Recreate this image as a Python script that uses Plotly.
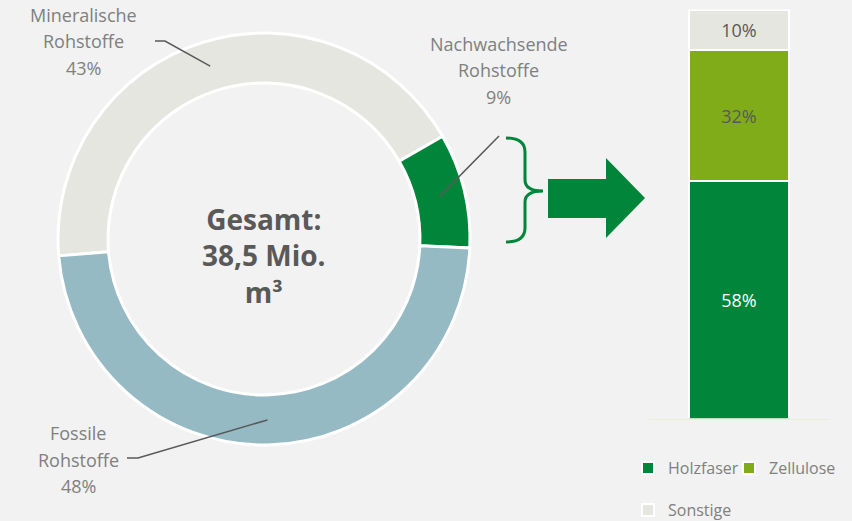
import math
import plotly.graph_objects as go

W, H = 852, 521

# ---------------- data ----------------
donut_names = ["Mineralische Rohstoffe", "Nachwachsende Rohstoffe", "Fossile Rohstoffe"]
donut_label_lines = [["Mineralische", "Rohstoffe"], ["Nachwachsende", "Rohstoffe"], ["Fossile", "Rohstoffe"]]
donut_values = [43, 9, 48]
donut_colors = ["#E6E6E1", "#00853A", "#96BAC3"]
total_text = "Gesamt:<br>38,5 Mio.<br>m³"

bar_category = ["Nachwachsende Rohstoffe"]
bar_series = ["Holzfaser", "Zellulose", "Sonstige"]
holzfaser = [58]
zellulose = [32]
sonstige = [10]
bar_values = [holzfaser, zellulose, sonstige]
bar_colors = ["#00853A", "#80AC1A", "#E6E6E1"]
bar_text_colors = ["#FFFFFF", "#595959", "#595959"]
bar_legends = ["legend", "legend2", "legend3"]

# ---------------- layout constants (pixels) ----------------
BG = "#F1F2F1"
FONT = "Open Sans"
cx, cy, R = 264, 239, 206
HOLE = 0.757
START_ANGLE = 265.3  # degrees clockwise from 12 o'clock

def px(x):
    return x / W

def py(y):
    return 1 - y / H

fig = go.Figure()

fig.add_trace(go.Pie(
    labels=donut_names,
    values=donut_values,
    marker=dict(colors=donut_colors, line=dict(color="white", width=3)),
    hole=HOLE,
    sort=False,
    direction="clockwise",
    rotation=START_ANGLE - 360,
    textinfo="none",
    showlegend=False,
    domain=dict(x=[px(cx - R), px(cx + R)], y=[py(cy + R), py(cy - R)]),
))

for name, vals, col, tcol, lg in zip(bar_series, bar_values, bar_colors, bar_text_colors, bar_legends):
    fig.add_trace(go.Bar(
        x=bar_category, y=vals, name=name,
        marker=dict(color=col, line=dict(color="white", width=2)),
        texttemplate="%{y}%", textposition="inside", insidetextanchor="middle",
        textangle=0,
        textfont=dict(family=FONT, size=18, color=tcol),
        xaxis="x2", yaxis="y2", legend=lg,
    ))

# ---------------- donut labels & leader lines ----------------
label_pos = [(83, 15), (499, 44), (78, 433)]       # centre x, first-line y
leader_ends = [[(155, 41), (165, 41)], [(499, 136)], [(127, 458), (138, 458)]]
LINE_STEP = 26.5

annotations = []
shapes = []
total = sum(donut_values)
acc = 0.0
r_mid = R * (1 + HOLE) / 2
for lines, v, (lx, ly), ends in zip(donut_label_lines, donut_values, label_pos, leader_ends):
    mid = math.radians(START_ANGLE + (acc + v / 2) / total * 360)
    acc += v
    sx = cx + r_mid * math.sin(mid)
    sy = cy - r_mid * math.cos(mid)
    for i, t in enumerate(lines + [f"{v}%"]):
        annotations.append(dict(
            x=px(lx), y=py(ly + i * LINE_STEP), xref="paper", yref="paper",
            text=t, showarrow=False, xanchor="center", yanchor="middle",
            font=dict(family=FONT, size=18, color="#808080"),
        ))
    pts = ends + [(sx, sy)]
    path = "M " + " L ".join(f"{px(a):.5f},{py(b):.5f}" for a, b in pts)
    shapes.append(dict(type="path", path=path, xref="paper", yref="paper",
                       line=dict(color="#595959", width=1.5)))

annotations.append(dict(
    x=px(cx), y=py(255), xref="paper", yref="paper", text=total_text,
    showarrow=False, xanchor="center", yanchor="middle",
    font=dict(family=FONT, size=28, color="#595959", weight="bold"),
))

# ---------------- bracket and arrow ----------------
def pth(cmds):
    out = []
    for c in cmds:
        if isinstance(c, str):
            out.append(c)
        else:
            out.append(f"{px(c[0]):.5f},{py(c[1]):.5f}")
    return " ".join(out)

GREEN = "#00853A"
brace = pth(["M", (506, 138), "Q", (525, 138), (525, 152), "L", (525, 180), "Q", (525, 191), (543, 191),
             "M", (543, 191), "Q", (525, 191), (525, 202), "L", (525, 228), "Q", (525, 242), (506, 242)])
shapes.append(dict(type="path", path=brace, xref="paper", yref="paper",
                   line=dict(color=GREEN, width=3)))
arrow = pth(["M", (548, 179), "L", (606, 179), "L", (606, 158), "L", (645, 198), "L", (606, 238),
             "L", (606, 218), "L", (548, 218), "Z"])
shapes.append(dict(type="path", path=arrow, xref="paper", yref="paper",
                   fillcolor=GREEN, line=dict(width=0)))

legend_style = dict(orientation="h", xanchor="left",
                    font=dict(family=FONT, size=16, color="#808080"),
                    bgcolor="rgba(0,0,0,0)")

fig.update_layout(
    width=W, height=H,
    autosize=False,
    margin=dict(l=0, r=0, t=0, b=0, autoexpand=False),
    paper_bgcolor=BG, plot_bgcolor=BG,
    barmode="stack", bargap=0.444,
    font=dict(family=FONT),
    xaxis2=dict(domain=[px(649), px(829)], anchor="y2", showline=True, linecolor="#ECEFD6",
                linewidth=1, showticklabels=False, ticks="", showgrid=False, zeroline=False),
    yaxis2=dict(domain=[py(418.5), py(9.5)], anchor="x2", range=[0, 100], visible=False),
    legend=dict(x=px(628), y=py(468), yanchor="middle", **legend_style),
    legend2=dict(x=px(729), y=py(468), yanchor="middle", **legend_style),
    legend3=dict(x=px(628), y=py(510), yanchor="middle", **legend_style),
    annotations=annotations,
    shapes=shapes,
)

page_fix = (
    "document.documentElement.style.margin='0';"
    "document.documentElement.style.overflow='hidden';"
    "document.body.style.margin='0';"
    "document.body.style.overflow='hidden';"
)
fig.write_html("out.html", config={"displayModeBar": False, "responsive": False},
               post_script=page_fix)
